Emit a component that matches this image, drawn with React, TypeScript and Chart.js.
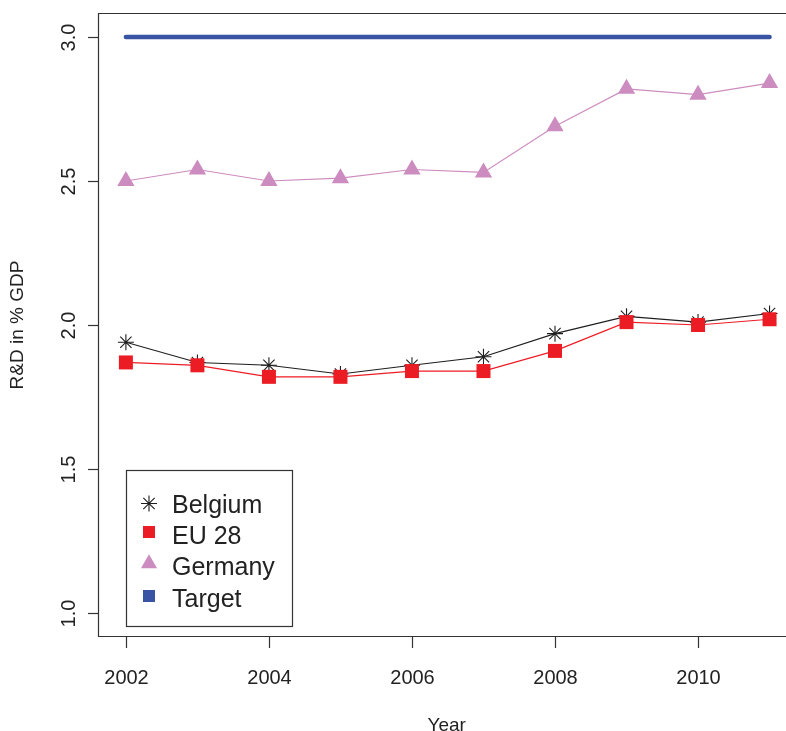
import React, { useEffect, useRef } from "react";
import { Chart, registerables } from "chart.js";

Chart.register(...registerables);

const years = [2002, 2003, 2004, 2005, 2006, 2007, 2008, 2009, 2010, 2011];
const belgium = [1.94, 1.87, 1.86, 1.83, 1.86, 1.89, 1.97, 2.03, 2.01, 2.04];
const eu28 = [1.87, 1.86, 1.82, 1.82, 1.84, 1.84, 1.91, 2.01, 2.0, 2.02];
const germany = [2.5, 2.54, 2.5, 2.51, 2.54, 2.53, 2.69, 2.82, 2.8, 2.84];
const target = [3.0, 3.0, 3.0, 3.0, 3.0, 3.0, 3.0, 3.0, 3.0, 3.0];

const xTicks = [2002, 2004, 2006, 2008, 2010];
const xTickLabels = ["2002", "2004", "2006", "2008", "2010"];
const yTicks = [1.0, 1.5, 2.0, 2.5, 3.0];
const yTickLabels = ["1.0", "1.5", "2.0", "2.5", "3.0"];
const xTitle = "Year";
const yTitle = "R&D in % GDP";
const legendLabels = ["Belgium", "EU 28", "Germany", "Target"];

const C_BEL = "#1e1e1e";
const C_EU = "#ec1c24";
const C_DE = "#cd8cbf";
const C_TG = "#3a54a5";
const FONT = '"Liberation Sans", Arial, Helvetica, sans-serif';

const toXY = (vals: number[]) => vals.map((v, i) => ({ x: years[i], y: v }));

const axesPlugin = {
  id: "rAxes",
  afterDraw(chart: any) {
    const ctx = chart.ctx as CanvasRenderingContext2D;
    const { left, top, right, bottom } = chart.chartArea;
    const xs = chart.scales.x;
    const ys = chart.scales.y;
    ctx.save();
    // box (right edge off-canvas)
    ctx.strokeStyle = "#333";
    ctx.lineWidth = 1.2;
    ctx.beginPath();
    ctx.moveTo(right + 20, top - 0.5);
    ctx.lineTo(left + 0.5, top - 0.5);
    ctx.lineTo(left + 0.5, bottom + 0.5);
    ctx.lineTo(right + 20, bottom + 0.5);
    ctx.stroke();
    // x ticks
    ctx.fillStyle = "#222";
    ctx.font = `20px ${FONT}`;
    ctx.textAlign = "center";
    ctx.textBaseline = "alphabetic";
    xTicks.forEach((t, i) => {
      const px = Math.round(xs.getPixelForValue(t)) + 0.5;
      ctx.beginPath();
      ctx.moveTo(px, bottom + 0.5);
      ctx.lineTo(px, bottom + 12);
      ctx.stroke();
      ctx.fillText(xTickLabels[i], px, 684);
    });
    // y ticks
    yTicks.forEach((t, i) => {
      const py = Math.round(ys.getPixelForValue(t)) + 0.5;
      ctx.beginPath();
      ctx.moveTo(left + 0.5, py);
      ctx.lineTo(left - 10, py);
      ctx.stroke();
      ctx.save();
      ctx.translate(75, py);
      ctx.rotate(-Math.PI / 2);
      ctx.fillText(yTickLabels[i], 0, 0);
      ctx.restore();
    });
    // titles
    ctx.font = `19px ${FONT}`;
    ctx.fillText(xTitle, (left + xs.getPixelForValue(2011.36)) / 2, 731);
    ctx.save();
    ctx.translate(23, (top + bottom) / 2);
    ctx.rotate(-Math.PI / 2);
    ctx.fillText(yTitle, 0, 0);
    ctx.restore();

    // legend
    ctx.strokeStyle = "#333";
    ctx.lineWidth = 1.2;
    ctx.strokeRect(126.5, 470.5, 166, 156);
    const sx = 149;
    const rows = [503.5, 532, 563.5, 596];
    const base = [513, 544, 575, 607];
    // star (plus + cross)
    ctx.strokeStyle = C_BEL;
    ctx.lineWidth = 1.1;
    const r = 8;
    const d = r * Math.SQRT1_2;
    ctx.beginPath();
    ctx.moveTo(sx, rows[0] - r); ctx.lineTo(sx, rows[0] + r);
    ctx.moveTo(sx - r, rows[0]); ctx.lineTo(sx + r, rows[0]);
    ctx.moveTo(sx - d, rows[0] - d); ctx.lineTo(sx + d, rows[0] + d);
    ctx.moveTo(sx - d, rows[0] + d); ctx.lineTo(sx + d, rows[0] - d);
    ctx.stroke();
    // eu square
    ctx.fillStyle = C_EU;
    ctx.fillRect(sx - 6, rows[1] - 6, 12, 12);
    // triangle
    ctx.fillStyle = C_DE;
    const tr = 9.3;
    ctx.beginPath();
    ctx.moveTo(sx, rows[2] - tr);
    ctx.lineTo(sx + tr * 0.866, rows[2] + tr / 2);
    ctx.lineTo(sx - tr * 0.866, rows[2] + tr / 2);
    ctx.closePath();
    ctx.fill();
    // target square
    ctx.fillStyle = C_TG;
    ctx.fillRect(sx - 6, rows[3] - 6, 12, 12);
    // labels
    ctx.fillStyle = "#222";
    ctx.font = `25px ${FONT}`;
    ctx.textAlign = "left";
    legendLabels.forEach((l, i) => ctx.fillText(l, 172, base[i]));
    ctx.restore();
  },
};

export default function App() {
  const ref = useRef<HTMLCanvasElement | null>(null);
  useEffect(() => {
    if (!ref.current) return;
    const chart = new Chart(ref.current, {
      type: "line",
      data: {
        datasets: [
          {
            label: legendLabels[3],
            data: toXY(target),
            borderColor: C_TG,
            borderWidth: 4.5,
            borderCapStyle: "round",
            pointRadius: 0,
            order: 3,
          },
          {
            label: legendLabels[2],
            data: toXY(germany),
            borderColor: C_DE,
            backgroundColor: C_DE,
            borderWidth: 1.2,
            pointStyle: "triangle",
            pointRadius: 10,
            pointBorderWidth: 0,
            order: 2,
          },
          {
            label: legendLabels[0],
            data: toXY(belgium),
            borderColor: C_BEL,
            backgroundColor: C_BEL,
            borderWidth: 1.1,
            pointStyle: "star",
            pointRadius: 8,
            pointBorderWidth: 1.1,
            order: 1,
          },
          {
            label: legendLabels[1],
            data: toXY(eu28),
            borderColor: C_EU,
            backgroundColor: C_EU,
            borderWidth: 1.2,
            pointStyle: "rect",
            pointRadius: 9.9,
            pointBorderWidth: 0,
            order: 0,
          },
        ],
      },
      options: {
        animation: false,
        responsive: false,
        devicePixelRatio: 1,
        layout: { autoPadding: false, padding: { left: 98, top: 14, right: 0, bottom: 95 } },
        plugins: { legend: { display: false }, tooltip: { enabled: false } },
        elements: { line: { tension: 0 } },
        scales: {
          x: { type: "linear", min: 2001.61, max: 2011.23, display: false },
          y: { type: "linear", min: 0.92, max: 3.08, display: false },
        },
      },
      plugins: [axesPlugin],
    } as any);
    return () => chart.destroy();
  }, []);
  return (
    <div style={{ position: "absolute", left: 0, top: 0, width: 786, height: 731, background: "#fff" }}>
      <canvas ref={ref} width={786} height={731} style={{ display: "block" }} />
    </div>
  );
}
